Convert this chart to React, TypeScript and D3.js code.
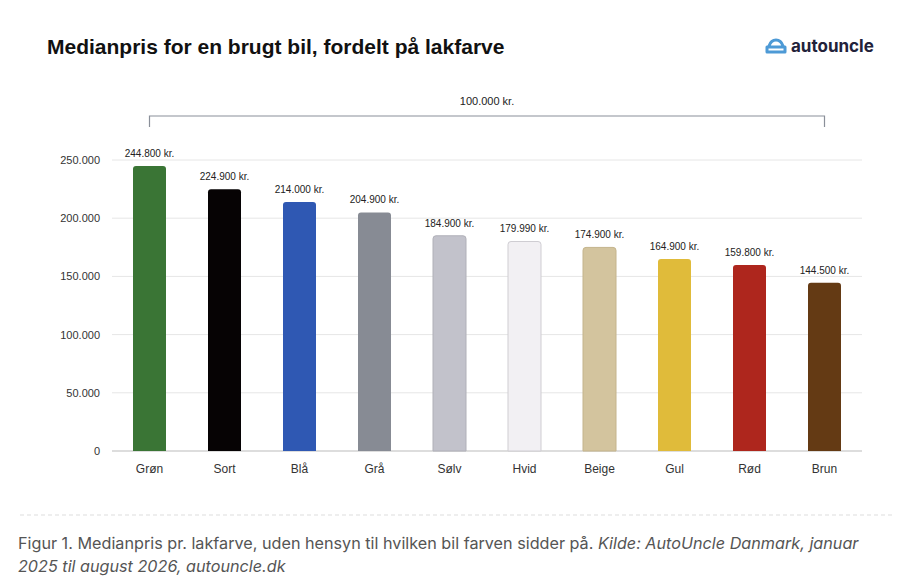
import * as d3 from 'd3';

const categories = ['Grøn', 'Sort', 'Blå', 'Grå', 'Sølv', 'Hvid', 'Beige', 'Gul', 'Rød', 'Brun'];
const values = [244800, 224900, 214000, 204900, 184900, 179990, 174900, 164900, 159800, 144500];
const labels = ['244.800 kr.', '224.900 kr.', '214.000 kr.', '204.900 kr.', '184.900 kr.', '179.990 kr.', '174.900 kr.', '164.900 kr.', '159.800 kr.', '144.500 kr.'];
const colors = ['#3a7535', '#060304', '#2f58b3', '#878b94', '#c2c2cb', '#f2f0f3', '#d3c49e', '#e0bb3a', '#ae261d', '#643a14'];
const strokes = ['none', 'none', 'none', 'none', '#b0b0b8', '#cfcdd2', '#c4b48c', 'none', 'none', 'none'];
const yTicks = [0, 50000, 100000, 150000, 200000, 250000];

export default function App() {
  const W = 912, H = 584;
  const x = d3.scaleBand<string>().domain(categories).range([112, 862]).paddingInner(0.56).paddingOuter(0.28);
  const y = d3.scaleLinear().domain([0, 250000]).range([451, 160]);
  const fmt = (v: number) => d3.format(',')(v).replace(/,/g, '.');
  const font = 'Liberation Sans, Arial, sans-serif';
  const bx1 = x('Grøn')! + x.bandwidth() / 2;
  const bx2 = x('Brun')! + x.bandwidth() / 2;
  return (
    <svg width={W} height={H} style={{ position: 'absolute', left: 0, top: 0, background: '#fff' }} fontFamily={font}>
      <text x={47} y={54} fontSize={21} fontWeight={700} fill="#111">Medianpris for en brugt bil, fordelt på lakfarve</text>
      <g transform="translate(766,37)">
        <path d="M3 9 Q5 3 10 3 Q15 3 17 9 M1 10 H19 V15 H1 Z" fill="none" stroke="#4d9ad6" strokeWidth={3} strokeLinejoin="round" />
        <text x={25} y={14.5} fontSize={17} fontWeight={700} fill="#22223a" fontFamily="Inter, sans-serif">autouncle</text>
      </g>
      {yTicks.map(t => (
        <g key={t}>
          <line x1={112} x2={862} y1={y(t)} y2={y(t)} stroke={t === 0 ? '#bbb' : '#e6e6e6'} />
          <text x={100} y={y(t) + 4} textAnchor="end" fontSize={11} fill="#333">{fmt(t)}</text>
        </g>
      ))}
      <path d={`M${bx1},127V116H${bx2}V127`} fill="none" stroke="#8a8f99" strokeWidth={1.2} />
      <text x={(bx1 + bx2) / 2} y={105} textAnchor="middle" fontSize={11} fill="#222">100.000 kr.</text>
      {categories.map((c, i) => {
        const bx = x(c)!;
        const by = y(values[i]);
        return (
          <g key={c}>
            <path d={`M${bx},451V${by + 3}Q${bx},${by} ${bx + 3},${by}H${bx + x.bandwidth() - 3}Q${bx + x.bandwidth()},${by} ${bx + x.bandwidth()},${by + 3}V451Z`}
              fill={colors[i]} stroke={strokes[i]} />
            <text x={bx + x.bandwidth() / 2} y={by - 9} textAnchor="middle" fontSize={10} fill="#222">{labels[i]}</text>
            <text x={bx + x.bandwidth() / 2} y={473} textAnchor="middle" fontSize={12} fill="#333">{c}</text>
          </g>
        );
      })}
      <line x1={20} x2={895} y1={515} y2={515} stroke="#ddd" strokeDasharray="4,3" />
      <text x={18} y={549} fontSize={16.2} fill="#555" fontFamily="Inter, sans-serif">Figur 1. Medianpris pr. lakfarve, uden hensyn til hvilken bil farven sidder på. <tspan fontStyle="italic">Kilde: AutoUncle Danmark, januar</tspan></text>
      <text x={18} y={572} fontSize={16.2} fill="#555" fontStyle="italic" fontFamily="Inter, sans-serif">2025 til august 2026, autouncle.dk</text>
    </svg>
  );
}
